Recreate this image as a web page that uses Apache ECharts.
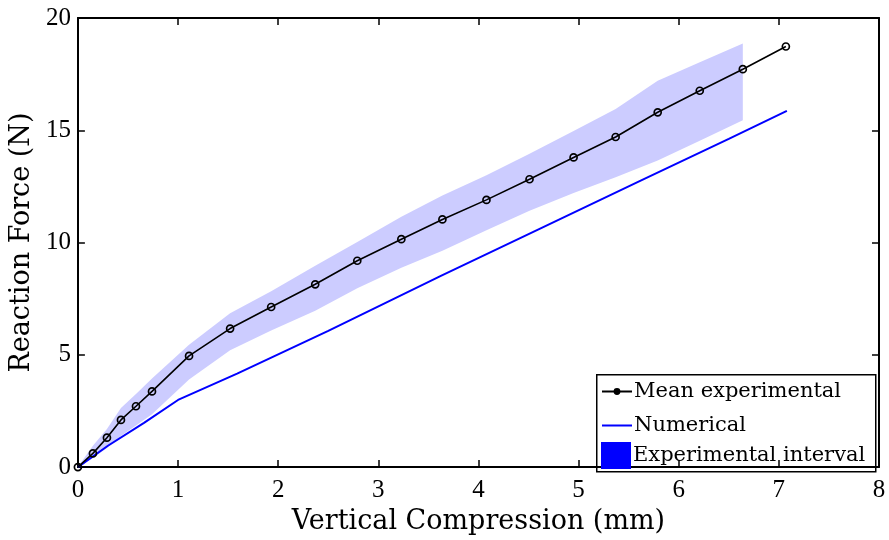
<!DOCTYPE html>
<html>
<head>
<meta charset="utf-8">
<script src="https://cdn.jsdelivr.net/npm/echarts@6/dist/echarts.min.js"></script>
<style>
html,body{margin:0;padding:0;background:#fff;}
#chart{width:889px;height:540px;}
</style>
</head>
<body>
<div id="chart"></div>
<script>
// ---- data ----
var meanX = [0,0.15,0.29,0.43,0.58,0.74,1.11,1.52,1.93,2.37,2.79,3.23,3.64,4.08,4.51,4.95,5.37,5.79,6.21,6.64,7.07];
var meanY = [0,0.61,1.31,2.10,2.71,3.37,4.95,6.17,7.13,8.14,9.19,10.15,11.03,11.90,12.82,13.79,14.70,15.80,16.76,17.72,18.73];
var bandX = [0,0.15,0.29,0.43,0.58,0.74,1.11,1.52,1.93,2.37,2.79,3.23,3.64,4.08,4.51,4.95,5.37,5.79,6.21,6.64];
var bandLow = [0,0.40,0.85,1.39,1.85,2.35,3.90,5.20,6.08,6.96,7.96,8.88,9.63,10.55,11.42,12.21,12.91,13.65,14.53,15.45];
var bandHigh = [0,0.95,1.70,2.63,3.25,3.95,5.45,6.85,7.83,8.97,10.02,11.15,12.10,13.00,13.96,14.97,15.95,17.20,18.03,18.86];
var numX = [0,0.3,0.66,1.0,1.59,2.5,3.63,4.6,5.62,6.5,7.08];
var numY = [0,0.95,1.97,2.99,4.16,6.07,8.53,10.59,12.76,14.62,15.86];
var xTicks = [0,1,2,3,4,5,6,7,8];
var yTicks = [0,5,10,15,20];
var seriesNames = ['Mean experimental','Numerical','Experimental interval'];
var xTitle = 'Vertical Compression (mm)';
var yTitle = 'Reaction Force (N)';

var FONT = 'Liberation Serif';
var TFONT = 'DejaVu Serif';
function pairs(xs, ys){ return xs.map(function(x,i){ return [x, ys[i]]; }); }
var bandData = bandX.map(function(x,i){ return [x, bandLow[i], bandHigh[i]]; });

var axisCommon = {
  type:'value', splitLine:{show:false},
  axisLine:{show:true, onZero:false, lineStyle:{color:'#000', width:2}},
  axisTick:{show:true, inside:true, length:7, lineStyle:{color:'#000', width:1.5}}
};
function xAxis(pos, showLabel){
  return Object.assign({}, axisCommon, {
    position:pos, min:xTicks[0], max:xTicks[xTicks.length-1], interval:1,
    axisLabel:{show:showLabel, color:'#000', fontFamily:FONT, fontSize:25, margin:11},
    name: showLabel ? xTitle : '', nameLocation:'middle', nameGap:40,
    nameTextStyle:{color:'#000', fontFamily:TFONT, fontSize:27}
  });
}
function yAxis(pos, showLabel){
  return Object.assign({}, axisCommon, {
    position:pos, min:yTicks[0], max:yTicks[yTicks.length-1], interval:5,
    axisLabel:{show:showLabel, color:'#000', fontFamily:FONT, fontSize:25, margin:7},
    name: showLabel ? yTitle : '', nameLocation:'middle', nameGap:22,
    nameTextStyle:{color:'#000', fontFamily:TFONT, fontSize:27}
  });
}

var chart = echarts.init(document.getElementById('chart'), null, {renderer:'canvas'});
chart.setOption({
  backgroundColor:'#fff',
  animation:false,
  grid:{left:75, right:10, top:18, bottom:65, containLabel:false},
  xAxis:[xAxis('bottom', true), xAxis('top', false)],
  yAxis:[yAxis('left', true), yAxis('right', false)],
  legend:[{
    data:[
      {name:seriesNames[0], itemStyle:{color:'#000', borderColor:'#000'}},
      {name:seriesNames[1], itemStyle:{opacity:0}}
    ],
    orient:'vertical', left:601, top:381, padding:0,
    itemWidth:30, itemHeight:6, itemGap:13,
    selectedMode:false,
    textStyle:{color:'#000', fontFamily:TFONT, fontSize:21, padding:[0,0,0,-3]}
  },{
    data:[{name:seriesNames[2], icon:'rect', itemStyle:{color:'#0000ff', opacity:1}}],
    orient:'vertical', left:601, top:442, padding:0,
    itemWidth:30, itemHeight:27, itemGap:0,
    selectedMode:false,
    textStyle:{color:'#000', fontFamily:TFONT, fontSize:21, padding:[0,0,0,-3]}
  }],
  graphic:[{
    type:'rect', left:596, top:374, z:-1,
    shape:{width:279, height:97},
    style:{fill:'#fff', stroke:'#000', lineWidth:1.5}
  }],
  series:[{
    name:seriesNames[2], type:'custom', z:1,
    itemStyle:{color:'#0000ff'},
    data:bandData,
    encode:{x:0, y:[1,2]},
    renderItem:function(params, api){
      if (params.dataIndex !== 0) return null;
      var pts = [];
      for (var i=0;i<bandX.length;i++) pts.push(api.coord([bandX[i], bandHigh[i]]));
      for (var j=bandX.length-1;j>=0;j--) pts.push(api.coord([bandX[j], bandLow[j]]));
      return {type:'polygon', shape:{points:pts}, style:{fill:'#ccccff', stroke:null}};
    }
  },{
    name:seriesNames[1], type:'line', z:3,
    data:pairs(numX, numY), showSymbol:false, symbol:'none',
    lineStyle:{color:'#0000ff', width:2}, itemStyle:{color:'#0000ff'}
  },{
    name:seriesNames[0], type:'line', z:4,
    data:pairs(meanX, meanY), symbol:'circle', symbolSize:7,
    lineStyle:{color:'#000', width:1.6},
    itemStyle:{color:'rgba(255,255,255,0)', borderColor:'#000', borderWidth:1.7}
  }]
});
</script>
</body>
</html>
